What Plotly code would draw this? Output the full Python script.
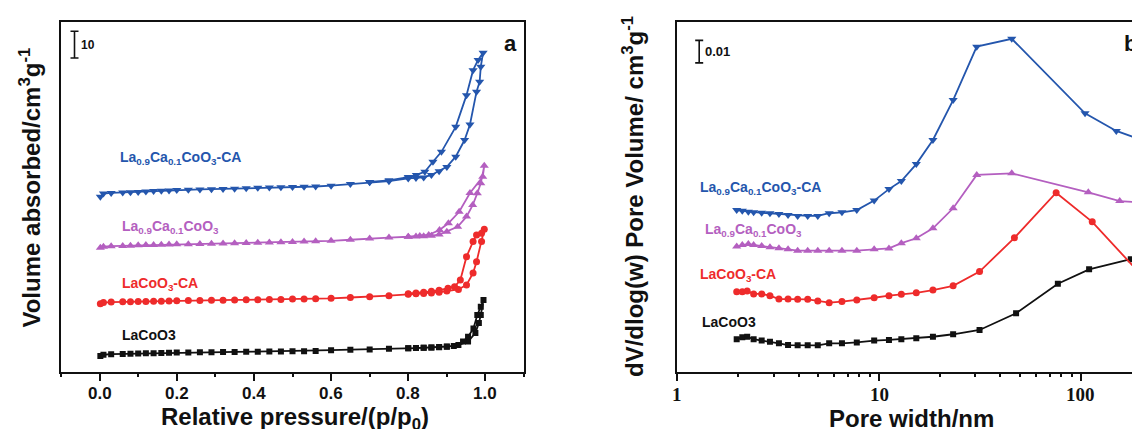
import numpy as np
import plotly.graph_objects as go

# ---------------- (a) N2 adsorption-desorption isotherms ----------------
# relative pressure of the adsorption branch
P_ADS = [0.002, 0.01, 0.03, 0.06, 0.08, 0.10, 0.12, 0.14, 0.16, 0.18, 0.20, 0.23, 0.26,
         0.29, 0.32, 0.35, 0.38, 0.41, 0.44, 0.47, 0.50, 0.53, 0.56, 0.60, 0.65, 0.70,
         0.75, 0.80, 0.82, 0.84, 0.86, 0.88, 0.90]

# adsorbed volume (cm3/g) along P_ADS, followed by the capillary-condensation part
LACOO3_ADS = [1.3, 1.8, 2.0, 2.1, 2.2, 2.3, 2.35, 2.4, 2.45, 2.5, 2.6, 2.65, 2.7, 2.75, 2.8,
              2.85, 2.9, 2.95, 3.0, 3.05, 3.1, 3.15, 3.2, 3.5, 3.7, 3.8, 4.0, 4.2, 4.3, 4.4,
              4.5, 4.6, 4.8]
LACOO3_HI_P = [0.93, 0.955, 0.974, 0.983, 0.988, 0.995]
LACOO3_HI_V = [5.4, 6.7, 9.9, 13.6, 16.6, 22.2]
LACOO3_DES_P = [0.988, 0.979, 0.969, 0.955, 0.942, 0.918, 0.90, 0.88, 0.86, 0.84, 0.82, 0.80]
LACOO3_DES_V = [19.7, 16.6, 11.6, 8.5, 6.7, 5.1, 4.9, 4.7, 4.5, 4.4, 4.3, 4.2]

LACOO3CA_ADS = [1.3, 1.7, 1.9, 2.0, 2.05, 2.1, 2.15, 2.2, 2.25, 2.3, 2.4, 2.45, 2.5, 2.55,
                2.6, 2.7, 2.75, 2.8, 2.85, 2.9, 3.0, 3.05, 3.1, 3.3, 3.6, 3.9, 4.3, 4.8, 5.0,
                5.1, 5.3, 5.6, 6.0]
LACOO3CA_HI_P = [0.93, 0.951, 0.968, 0.977, 0.99, 0.997]
LACOO3CA_HI_V = [6.6, 8.3, 12.7, 16.9, 24.4, 29.0]
LACOO3CA_DES_P = [0.99, 0.977, 0.968, 0.951, 0.935, 0.92, 0.903, 0.88, 0.86, 0.84, 0.82, 0.80]
LACOO3CA_DES_V = [27.5, 26.9, 24.4, 18.8, 10.1, 7.6, 7.0, 6.3, 5.9, 5.6, 5.3, 5.0]

LCC_ADS = [2.1, 2.5, 2.7, 2.8, 2.9, 3.0, 3.1, 3.15, 3.2, 3.3, 3.4, 3.45, 3.5, 3.6, 3.7,
           3.75, 3.9, 4.0, 4.1, 4.2, 4.3, 4.4, 4.5, 4.7, 5.1, 5.6, 5.9, 6.2, 6.3, 6.4, 6.6,
           7.0, 8.1]
LCC_HI_P = [0.928, 0.951, 0.967, 0.979, 0.988, 0.997]
LCC_HI_V = [9.9, 13.7, 18.0, 22.4, 26.1, 32.6]
LCC_DES_P = [0.993, 0.96, 0.932, 0.904, 0.881, 0.853, 0.83, 0.80]
LCC_DES_V = [28.5, 22.5, 15.5, 11.2, 8.7, 6.9, 6.5, 6.2]

LCCCA_ADS = [2.1, 3.3, 3.5, 3.7, 3.8, 3.9, 4.0, 4.2, 4.3, 4.4, 4.6, 4.7, 4.8, 4.9, 5.0,
             5.1, 5.3, 5.4, 5.5, 5.6, 5.7, 5.8, 5.9, 6.2, 6.8, 7.5, 7.9, 8.9, 9.1, 9.3,
             10.2, 11.6, 13.2]
LCCCA_HI_P = [0.923, 0.946, 0.96, 0.977, 0.985, 0.988, 0.994]
LCCCA_HI_V = [17.0, 23.2, 29.0, 41.2, 44.9, 50.5, 55.7]
LCCCA_DES_P = [0.981, 0.968, 0.951, 0.923, 0.886, 0.864, 0.843, 0.821, 0.80, 0.75, 0.70]
LCCCA_DES_V = [53.0, 49.2, 39.9, 28.1, 18.8, 15.1, 11.4, 10.2, 9.4, 8.2, 7.6]

# vertical offsets used to stack the isotherms (cm3/g)
ISO_OFFSET = [4.5, 24.0, 44.0, 63.0]

# ---------------- (b) BJH pore size distributions ----------------
W_LACOO3 = [1.97, 2.1, 2.22, 2.39, 2.62, 2.88, 3.19, 3.54, 3.95, 4.43, 4.97, 5.66, 6.55,
            7.76, 9.46, 11.2, 12.9, 15.3, 18.5, 23.3, 31.5, 47.8, 77.0, 110.0, 177.0]
PSD_LACOO3 = [0.0144, 0.0153, 0.0155, 0.0144, 0.0138, 0.0133, 0.0126, 0.0118, 0.0117,
              0.0117, 0.0117, 0.0126, 0.0126, 0.0130, 0.0138, 0.0141, 0.0144, 0.0148,
              0.0155, 0.0166, 0.0185, 0.0259, 0.0390, 0.0454, 0.0499]

W_LACOO3CA = [1.97, 2.1, 2.22, 2.39, 2.62, 2.88, 3.19, 3.54, 3.95, 4.43, 4.97, 5.66, 6.55,
              7.76, 9.46, 11.2, 12.9, 15.3, 18.5, 23.3, 31.5, 46.9, 75.5, 114.0, 200.0]
PSD_LACOO3CA = [0.0355, 0.0355, 0.0358, 0.0345, 0.0345, 0.0337, 0.0322, 0.0322, 0.0321,
                0.0321, 0.0314, 0.0306, 0.0311, 0.0318, 0.0328, 0.0337, 0.0343, 0.0350,
                0.0362, 0.0381, 0.0444, 0.0594, 0.0794, 0.0665, 0.0428]

W_LCC = [1.97, 2.1, 2.25, 2.39, 2.62, 2.88, 3.19, 3.54, 3.95, 4.43, 4.97, 5.66, 6.55,
         7.76, 9.46, 11.2, 12.9, 15.3, 18.5, 23.3, 30.5, 45.5, 109.0, 156.0, 230.0]
PSD_LCC = [0.0555, 0.0562, 0.0566, 0.0562, 0.0558, 0.0552, 0.0548, 0.0543, 0.0537, 0.0537,
           0.0537, 0.0537, 0.0537, 0.0537, 0.0543, 0.0547, 0.0570, 0.0592, 0.0636, 0.0725,
           0.0873, 0.0880, 0.0796, 0.0757, 0.0746]

W_LCCCA = [1.97, 2.1, 2.25, 2.39, 2.62, 2.88, 3.19, 3.54, 3.95, 4.43, 4.97, 5.66, 6.55,
           7.76, 9.46, 11.2, 12.9, 15.3, 18.5, 23.3, 30.5, 45.5, 105.0, 150.0, 220.0]
PSD_LCCCA = [0.0717, 0.0714, 0.0710, 0.0707, 0.0705, 0.0703, 0.0700, 0.0695, 0.0691,
             0.0691, 0.0691, 0.0703, 0.0707, 0.0717, 0.0759, 0.0810, 0.0846, 0.0921,
             0.1028, 0.1205, 0.1442, 0.1477, 0.1146, 0.1068, 0.1015]

LABELS = ["LaCoO3", "LaCoO<sub>3</sub>-CA", "La<sub>0.9</sub>Ca<sub>0.1</sub>CoO<sub>3</sub>",
          "La<sub>0.9</sub>Ca<sub>0.1</sub>CoO<sub>3</sub>-CA"]
COLORS = ["#111111", "#ee2b2b", "#b45fc0", "#2456ad"]
SYMBOLS = ["square", "circle", "triangle-up", "triangle-down"]
SIZES = [6, 7, 8, 8]

# tick values / labels
P_TICKS = [0.0, 0.2, 0.4, 0.6, 0.8, 1.0]
P_MINOR = [-0.1, 0.1, 0.3, 0.5, 0.7, 0.9, 1.1]
W_TICKS = [1, 10, 100]
W_MINOR = [2, 3, 4, 5, 6, 7, 8, 9, 20, 30, 40, 50, 60, 70, 80, 90, 200]

# label anchor positions (p/p0, cm3/g) and (nm, cm3/g)
LABEL_A_X = [0.054, 0.054, 0.054, 0.048]
LABEL_A_Y = [13.7, 32.6, 53.9, 79.5]
LABEL_B_X = [1.296, 1.266, 1.338, 1.266]
LABEL_B_Y = [0.0222, 0.0429, 0.0629, 0.0814]

SCALE_A = 10      # cm3/g
SCALE_B = 0.01    # cm3/g

P_RANGE = [-0.1, 1.1]
W_RANGE_LOG = [0, 2.254]
DOM_A = [0.05389, 0.46290]
DOM_B = [0.59832, 1.0]
DOM_Y = [0.1336, 0.948]
TICKLABEL_Y = 0.1096   # paper position of the top of the tick labels

iso = [
    (LACOO3_ADS, LACOO3_HI_P, LACOO3_HI_V, LACOO3_DES_P, LACOO3_DES_V),
    (LACOO3CA_ADS, LACOO3CA_HI_P, LACOO3CA_HI_V, LACOO3CA_DES_P, LACOO3CA_DES_V),
    (LCC_ADS, LCC_HI_P, LCC_HI_V, LCC_DES_P, LCC_DES_V),
    (LCCCA_ADS, LCCCA_HI_P, LCCCA_HI_V, LCCCA_DES_P, LCCCA_DES_V),
]
psd = [(W_LACOO3, PSD_LACOO3), (W_LACOO3CA, PSD_LACOO3CA), (W_LCC, PSD_LCC), (W_LCCCA, PSD_LCCCA)]

fig = go.Figure()

for i, (ads, hp, hv, dp, dv) in enumerate(iso):
    px = list(P_ADS) + list(hp) + list(dp)
    py = [v + ISO_OFFSET[i] for v in list(ads) + list(hv) + list(dv)]
    fig.add_trace(go.Scatter(
        x=px, y=py, mode="lines+markers", xaxis="x", yaxis="y",
        line=dict(color=COLORS[i], width=1.8),
        marker=dict(symbol=SYMBOLS[i], size=SIZES[i], color=COLORS[i]),
        showlegend=False, hoverinfo="skip"))

for i, (w, v) in enumerate(psd):
    fig.add_trace(go.Scatter(
        x=w, y=v, mode="lines+markers", xaxis="x2", yaxis="y2",
        line=dict(color=COLORS[i], width=1.8),
        marker=dict(symbol=SYMBOLS[i], size=SIZES[i], color=COLORS[i]),
        showlegend=False, hoverinfo="skip"))

# scale bars drawn as error bars on an invisible point
SB_A_X, SB_A_Y = -0.065, 121.7
SB_B_X, SB_B_Y = 1.284, 0.142
fig.add_trace(go.Scatter(
    x=[SB_A_X], y=[SB_A_Y], mode="markers", xaxis="x", yaxis="y",
    marker=dict(size=1, color="rgba(0,0,0,0)"),
    error_y=dict(type="data", array=[SCALE_A / 2], width=4, thickness=1.6, color="#111"),
    showlegend=False, hoverinfo="skip"))
fig.add_trace(go.Scatter(
    x=[SB_B_X], y=[SB_B_Y], mode="markers", xaxis="x2", yaxis="y2",
    marker=dict(size=1, color="rgba(0,0,0,0)"),
    error_y=dict(type="data", array=[SCALE_B / 2], width=4, thickness=1.6, color="#111"),
    showlegend=False, hoverinfo="skip"))

# empty traces that carry the overlaid minor-tick axes
fig.add_trace(go.Scatter(x=[None], y=[None], xaxis="x3", yaxis="y", showlegend=False,
                         hoverinfo="skip"))
fig.add_trace(go.Scatter(x=[None], y=[None], xaxis="x4", yaxis="y2", showlegend=False,
                         hoverinfo="skip"))

SANS = "Liberation Sans, Arial, sans-serif"
SERIF = "Liberation Serif, Times New Roman, serif"

ann = []
for i in range(4):
    ann.append(dict(xref="x", yref="y", x=LABEL_A_X[i], y=LABEL_A_Y[i], text=LABELS[i],
                    showarrow=False, xanchor="left", yanchor="middle",
                    font=dict(family=SANS, size=14, color=COLORS[i], weight="bold")))
    ann.append(dict(xref="x2", yref="y2", x=np.log10(LABEL_B_X[i]), y=LABEL_B_Y[i],
                    text=LABELS[i], showarrow=False, xanchor="left", yanchor="middle",
                    font=dict(family=SANS, size=14, color=COLORS[i], weight="bold")))

# bold tick labels placed under the major ticks
for t in P_TICKS:
    ann.append(dict(xref="x", yref="paper", x=t, y=TICKLABEL_Y, text="%.1f" % t,
                    showarrow=False, xanchor="center", yanchor="top",
                    font=dict(family=SANS, size=17, color="#111", weight="bold")))
for t in W_TICKS:
    ann.append(dict(xref="x2", yref="paper", x=np.log10(t), y=TICKLABEL_Y, text="%d" % t,
                    showarrow=False, xanchor="center", yanchor="top",
                    font=dict(family=SERIF, size=19, color="#111", weight="bold")))

ann += [
    dict(xref="x", yref="y", x=SB_A_X, y=SB_A_Y, text=str(SCALE_A), showarrow=False,
         xanchor="left", yanchor="middle", xshift=4,
         font=dict(family=SANS, size=12, color="#111", weight="bold")),
    dict(xref="x2", yref="y2", x=np.log10(SB_B_X), y=SB_B_Y, text=str(SCALE_B),
         showarrow=False, xanchor="left", yanchor="middle", xshift=4,
         font=dict(family=SANS, size=13, color="#111", weight="bold")),
    dict(xref="x", yref="y", x=1.066, y=122.2, text="a", showarrow=False,
         xanchor="center", yanchor="middle",
         font=dict(family=SANS, size=22, color="#111", weight="bold")),
    dict(xref="x2", yref="y2", x=np.log10(159.7), y=0.1457, text="b", showarrow=False,
         xanchor="left", yanchor="middle",
         font=dict(family=SANS, size=22, color="#111", weight="bold")),
    # axis titles
    dict(xref="paper", yref="paper", x=0.0261, y=0.5618, textangle=-90, showarrow=False,
         xanchor="center", yanchor="middle",
         text="Volume absorbed/cm<sup>3</sup>g<sup>-1</sup>",
         font=dict(family=SANS, size=24, color="#111", weight="bold")),
    dict(xref="paper", yref="paper", x=0.2606, y=0.024, showarrow=False,
         xanchor="center", yanchor="middle",
         text="Relative pressure/(p/p<sub>0</sub>)",
         font=dict(family=SANS, size=24, color="#111", weight="bold")),
    dict(xref="paper", yref="paper", x=0.8048, y=0.024, showarrow=False,
         xanchor="center", yanchor="middle",
         text="Pore width/nm",
         font=dict(family=SANS, size=24, color="#111", weight="bold")),
    dict(xref="paper", yref="paper", x=0.5592, y=0.5408, textangle=-90, showarrow=False,
         xanchor="center", yanchor="middle",
         text="dV/dlog(w) Pore Volume/ cm<sup>3</sup>g<sup>-1</sup>",
         font=dict(family=SANS, size=24, color="#111", weight="bold")),
]

AXLINE = dict(showline=True, linecolor="#111", linewidth=1.8, showgrid=False, zeroline=False)
MINOR_AX = dict(showline=False, showgrid=False, zeroline=False, showticklabels=False,
                ticks="outside", ticklen=4, tickwidth=1.6, tickcolor="#111", tickmode="array")

fig.update_layout(
    width=1132, height=429, margin=dict(l=0, r=0, t=0, b=0),
    paper_bgcolor="white", plot_bgcolor="white",
    annotations=ann,
    xaxis=dict(**AXLINE, domain=DOM_A, range=P_RANGE, mirror=True,
               tickmode="array", tickvals=P_TICKS, showticklabels=False,
               ticks="outside", ticklen=7, tickwidth=1.6, tickcolor="#111",
               anchor="y"),
    xaxis3=dict(**MINOR_AX, domain=DOM_A, range=P_RANGE, tickvals=P_MINOR,
                overlaying="x", anchor="y", side="bottom"),
    yaxis=dict(**AXLINE, domain=DOM_Y, range=[0, 130], mirror=True,
               showticklabels=False, ticks="", anchor="x"),
    xaxis2=dict(**AXLINE, domain=DOM_B, type="log", range=W_RANGE_LOG, mirror=True,
                tickmode="array", tickvals=W_TICKS, showticklabels=False,
                ticks="outside", ticklen=7, tickwidth=1.6, tickcolor="#111",
                anchor="y2"),
    xaxis4=dict(**MINOR_AX, domain=DOM_B, type="log", range=W_RANGE_LOG, tickvals=W_MINOR,
                overlaying="x2", anchor="y2", side="bottom"),
    yaxis2=dict(**AXLINE, domain=DOM_Y, range=[0, 0.155], mirror=False,
                showticklabels=False, ticks="", anchor="x2"),
)

fig.write_html("out.html")
